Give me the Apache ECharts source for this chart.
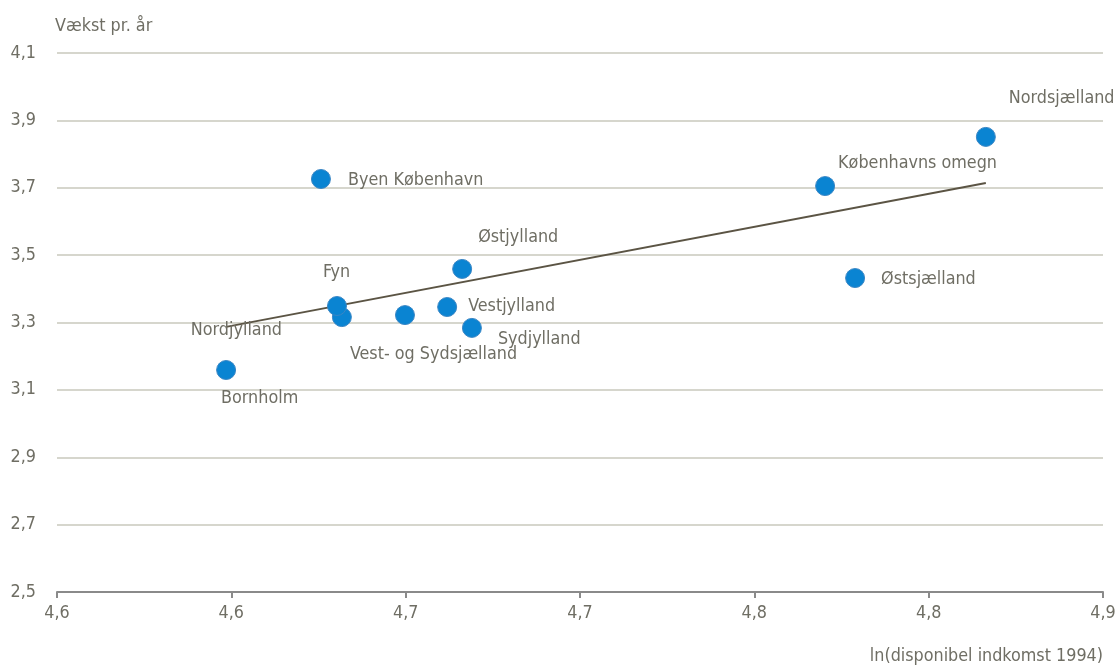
<!DOCTYPE html>
<html><head><meta charset="utf-8">
<script src="https://cdn.jsdelivr.net/npm/echarts@6/dist/echarts.min.js"></script>
<style>html,body{margin:0;padding:0;background:#fff}#c{width:1116px;height:668px}</style>
</head><body><div id="c"></div>
<script>
const regions = ["Bornholm","Nordjylland","Fyn","Vest- og Sydsjælland","Vestjylland","Østjylland","Sydjylland","Byen København","Københavns omegn","Østsjælland","Nordsjælland"];
const incomeLn = [4.5985,4.6317,4.6303,4.6498,4.6619,4.6662,4.6690,4.6257,4.7703,4.7789,4.8164];
const growth = [3.159,3.316,3.349,3.322,3.346,3.459,3.284,3.726,3.705,3.432,3.851];
const trendX = [4.5985,4.8164];
const trendY = [3.287,3.714];
const xTicks = {min:4.55,max:4.85,interval:0.05};
const yTicks = {min:2.5,max:4.1,interval:0.2};

const labelOffsets = {
 "Bornholm":[-15,28],"Nordjylland":[-161,13],"Fyn":[-24,-34],"Vest- og Sydsjælland":[-65,39],
 "Vestjylland":[11,-1],"Østjylland":[6,-32],"Sydjylland":[16,11],"Byen København":[17,1],
 "Københavns omegn":[3,-23],"Østsjælland":[16,1],"Nordsjælland":[13,-38]
};

const FONT = '"Liberation Sans Narrow","Arial Narrow","DejaVu Sans Condensed",sans-serif';
const FS = 17.8;
const TXT = '#6f6e64';
const fmt = v => (Math.round(v*10+1e-6)/10).toFixed(1).replace('.', ',');

const pts = regions.map((n,i)=>({
  value:[incomeLn[i],growth[i]], name:n,
  label:{show:true,position:'right',distance:0,offset:labelOffsets[n],formatter:n}
}));

const chart = echarts.init(document.getElementById('c'));
chart.setOption({
  animation:false,
  textStyle:{fontFamily:FONT},
  grid:{left:57,right:13,top:53,bottom:76,containLabel:false,outerBoundsMode:'none'},
  xAxis:{type:'value',min:xTicks.min,max:xTicks.max,interval:xTicks.interval,
    axisLine:{show:true,lineStyle:{color:'#8a8a8a',width:2}},
    axisTick:{show:true,length:6,lineStyle:{color:'#8a8a8a',width:2}},
    splitLine:{show:false},
    axisLabel:{color:TXT,fontSize:FS,fontFamily:FONT,margin:12,formatter:fmt},
    name:'ln(disponibel indkomst 1994)',nameLocation:'end',
    nameTextStyle:{color:TXT,fontSize:FS,fontFamily:FONT,align:'right',verticalAlign:'top',padding:[55,0,0,0]},
    nameGap:0},
  yAxis:{type:'value',min:yTicks.min,max:yTicks.max,interval:yTicks.interval,
    axisLine:{show:false},axisTick:{show:false},
    splitLine:{show:true,lineStyle:{color:'#c8c8bc',width:1.5}},
    axisLabel:{color:TXT,fontSize:FS,fontFamily:FONT,margin:21,formatter:fmt},
    name:'Vækst pr. år',nameLocation:'end',nameGap:18,
    nameTextStyle:{color:TXT,fontSize:FS,fontFamily:FONT,align:'left',padding:[0,0,0,-2]}},
  series:[
    {type:'line',data:trendX.map((x,i)=>[x,trendY[i]]),symbol:'none',
     lineStyle:{color:'#5b5444',width:2},z:2},
    {type:'scatter',data:pts,symbolSize:19,
     itemStyle:{color:'#0a84d2',borderColor:'#3b86c4',borderWidth:1,opacity:1},
     label:{color:TXT,fontSize:FS,fontFamily:FONT},z:3}
  ]
});
</script></body></html>
